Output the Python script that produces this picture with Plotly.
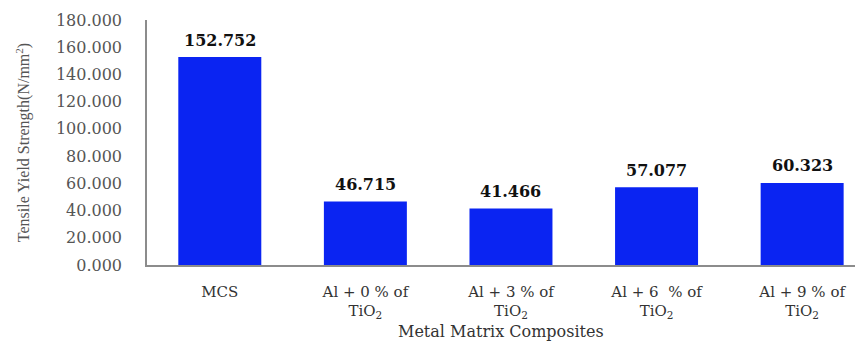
import plotly.graph_objects as go

categories = ["MCS", "Al + 0 % of<br>TiO<sub>2</sub>", "Al + 3 % of<br>TiO<sub>2</sub>",
              "Al + 6  % of<br>TiO<sub>2</sub>", "Al + 9 % of<br>TiO<sub>2</sub>"]
values = [152.752, 46.715, 41.466, 57.077, 60.323]
value_labels = ["152.752", "46.715", "41.466", "57.077", "60.323"]
y_ticks = [0, 20, 40, 60, 80, 100, 120, 140, 160, 180]
y_tick_labels = ["%.3f" % v for v in y_ticks]
x_title = "Metal Matrix Composites"
y_title = "Tensile Yield Strength(N/mm<sup>2</sup>)"

x_idx = list(range(len(categories)))

fig = go.Figure()
fig.add_trace(go.Bar(
    x=x_idx, y=values,
    marker=dict(color="#0a24f2", line=dict(width=0)),
    hoverinfo="skip",
))

for i, (v, lab) in enumerate(zip(values, value_labels)):
    fig.add_annotation(x=i, y=v, text="<b>%s</b>" % lab, showarrow=False,
                       yshift=17, xanchor="center", yanchor="middle",
                       font=dict(family="DejaVu Serif", size=16, color="#111111"))

# x-axis title as annotation placed just under the tick labels
fig.add_annotation(xref="paper", yref="paper", x=0.495, y=-0.272,
                   text=x_title, showarrow=False, xanchor="center", yanchor="middle",
                   font=dict(family="DejaVu Serif", size=16, color="#333333"))

# page body has an 8px margin, so the figure is offset by (8, 8)
fig.update_layout(
    width=855, height=334,
    margin=dict(l=139, r=0, t=12, b=77),
    paper_bgcolor="white", plot_bgcolor="white",
    bargap=0.43,
    showlegend=False,
    xaxis=dict(
        range=[-0.5, 4.418],
        tickmode="array", tickvals=x_idx, ticktext=categories,
        showgrid=False, zeroline=False,
        showline=True, linecolor="#8c8c8c", linewidth=1.5,
        ticks="", ticklabelstandoff=12,
        tickfont=dict(family="DejaVu Serif", size=15, color="#333333"),
    ),
    yaxis=dict(
        range=[0, 180],
        tickmode="array", tickvals=y_ticks, ticktext=y_tick_labels,
        showgrid=False, zeroline=False,
        showline=True, linecolor="#8c8c8c", linewidth=1.5,
        ticks="", ticklabelstandoff=20,
        tickfont=dict(family="DejaVu Serif", size=16, color="#555555"),
        title=dict(text=y_title, standoff=22,
                   font=dict(family="Liberation Serif", size=16, color="#555555")),
    ),
)

fig.write_html("out.html")
